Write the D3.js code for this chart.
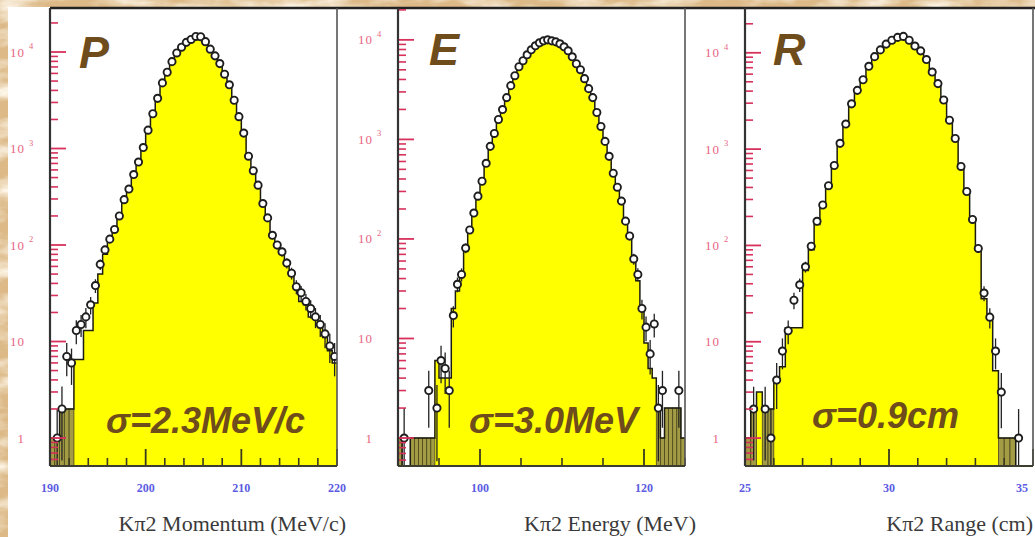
<!DOCTYPE html>
<html>
<head>
<meta charset="utf-8">
<script src="https://cdn.jsdelivr.net/npm/d3@7"></script>
<style>
  html, body { margin: 0; padding: 0; background: #dfbd8c; }
  svg { display: block; }
</style>
</head>
<body>
<svg id="chart" width="1035" height="537"></svg>
<script>
// ---------------- data ----------------
// Kπ2 momentum spectrum, 0.5 MeV/c bins starting at 190 MeV/c
const momentumBinStart = 190, momentumBinWidth = 0.5;
const momentumData = [
  0, 1, 2, 7, 6, 13, 15, 18, 24, 38,
  63, 89, 115, 145, 200, 295, 380, 537, 724, 1023,
  1549, 2291, 3311, 4786, 6166, 7943, 9772, 11220, 12589, 13500,
  14500, 14400, 12800, 10700, 9120, 7586, 5888, 4571, 3162, 2138,
  1445, 832, 589, 417, 269, 191, 126, 100, 85, 65,
  51, 37, 32, 26, 22, 18, 15, 12, 9, 7
];
const momentumMC = [
  1, 1, 2, 2, 2, 6.5, 6.5, 13, 13, 25,
  50, 80, 110, 140, 190, 280, 370, 520, 700, 1000,
  1500, 2250, 3250, 4700, 6100, 7900, 9700, 11200, 12500, 13400,
  14300, 14200, 12600, 10500, 9000, 7500, 5800, 4500, 3100, 2100,
  1400, 820, 580, 410, 265, 185, 125, 98, 80, 62,
  48, 35, 26, 24, 18, 17, 14, 11, 8, 6
];
const momentumTicks = [190, 200, 210, 220];

// Kπ2 energy spectrum, 0.5 MeV bins starting at 90 MeV
const energyBinStart = 90, energyBinWidth = 0.5;
const energyData = [
  0, 1, 0, 0, 0, 0, 0, 3, 0, 2,
  6, 5, 3, 17, 35, 44, 81, 123, 182, 269,
  380, 575, 851, 1148, 1585, 1995, 2630, 3467, 4365, 5370,
  6166, 7079, 7943, 8710, 9333, 9772, 10000, 9772, 9550, 9120,
  8511, 7762, 6761, 5754, 5012, 4074, 3236, 2630, 1862, 1349,
  955, 676, 457, 331, 240, 151, 107, 63, 44, 20,
  13, 7, 14, 2, 3, 0, 0, 0, 3, 0
];
const energyMC = [
  1, 0, 0, 1, 1, 1, 1, 1, 1, 6,
  4, 4, 4, 20, 30, 45, 75, 118, 178, 262,
  372, 560, 830, 1120, 1560, 1960, 2600, 3400, 4300, 5300,
  6100, 7000, 7900, 8600, 9200, 9600, 9800, 9700, 9400, 9000,
  8400, 7700, 6700, 5700, 4950, 4000, 3200, 2580, 1830, 1320,
  940, 660, 450, 325, 235, 148, 104, 62, 38, 20,
  9, 5, 4, 2, 1, 2, 2, 2, 2, 1
];
const energyTicks = [100, 120];

// Kπ2 range spectrum, 0.2 cm bins starting at 25 cm
const rangeBinStart = 25, rangeBinWidth = 0.2;
const rangeData = [
  0, 2, 0, 2, 1, 4, 8, 13, 27, 39,
  60, 98, 178, 263, 417, 676, 1148, 1820, 2951, 4074,
  5248, 7244, 9120, 10715, 12303, 13490, 14454, 14791, 13490, 11749,
  10471, 8511, 6310, 4786, 3236, 1995, 1288, 661, 363, 186,
  93, 32, 18, 8, 3, 0, 0, 1, 0, 0
];
const rangeMC = [
  1, 2, 3, 2, 2, 4, 5.5, 14, 14, 14,
  55, 90, 165, 250, 400, 650, 1100, 1750, 2850, 3950,
  5100, 7100, 8900, 10500, 12100, 13300, 14200, 14500, 13300, 11600,
  10300, 8400, 6200, 4700, 3150, 1950, 1250, 640, 350, 180,
  90, 28, 18, 5, 1, 1, 1, 0, 0, 0
];
const rangeTicks = [25, 30, 35];

// log-axis decade labels (exponents of ten)
const decadeExponents = [0, 1, 2, 3, 4];

// ---------------- layout ----------------
const svg = d3.select("#chart");
const defs = svg.append("defs");

// parchment texture for the backdrop
const parch = defs.append("filter").attr("id", "parchment")
  .attr("x", 0).attr("y", 0).attr("width", "100%").attr("height", "100%");
parch.append("feTurbulence").attr("type", "fractalNoise")
  .attr("baseFrequency", "0.02 0.05").attr("numOctaves", 4).attr("seed", 11).attr("result", "noise");
parch.append("feColorMatrix").attr("in", "noise").attr("type", "matrix")
  .attr("values", "0 0 0 0 1  0 0 0 0 0.95  0 0 0 0 0.85  2.2 0 0 0 -0.85");

svg.append("rect").attr("width", 1035).attr("height", 537).attr("fill", "#dcb987");
svg.append("rect").attr("width", 1035).attr("height", 537).attr("filter", "url(#parchment)");

// white sheet holding the three histograms
svg.append("rect").attr("x", 8).attr("y", 7).attr("width", 1027).attr("height", 530).attr("fill", "#ffffff");

const TOP = 8, BOTTOM = 466;
const brown = "#6e4c1b";

const panels = [
  {
    id: "p", data: momentumData, mc: momentumMC, start: momentumBinStart, width: momentumBinWidth,
    xDomain: [190, 220], xRange: [50, 337], logMin: -0.29, logMax: 4.456,
    majorTicks: momentumTicks, minorStep: 2,
    title: "Kπ2 Momentum (MeV/c)", titleEnd: 346, letter: "P", letterPos: [79, 68],
    sigma: "σ=2.3MeV/c", sigmaPos: [106, 433]
  },
  {
    id: "e", data: energyData, mc: energyMC, start: energyBinStart, width: energyBinWidth,
    xDomain: [90, 125], xRange: [398, 685], logMin: -0.281, logMax: 4.32,
    majorTicks: energyTicks, minorStep: 5,
    title: "Kπ2 Energy (MeV)", titleEnd: 696, letter: "E", letterPos: [429, 65],
    sigma: "σ=3.0MeV", sigmaPos: [469, 433]
  },
  {
    id: "r", data: rangeData, mc: rangeMC, start: rangeBinStart, width: rangeBinWidth,
    xDomain: [25, 35], xRange: [745, 1033], logMin: -0.29, logMax: 4.465,
    majorTicks: rangeTicks, minorStep: 1,
    title: "Kπ2 Range (cm)", titleEnd: 1033, letter: "R", letterPos: [773, 65],
    sigma: "σ=0.9cm", sigmaPos: [812, 428]
  }
];

// top border of the frames runs across the whole sheet
svg.append("line").attr("x1", 50).attr("x2", 1035).attr("y1", TOP).attr("y2", TOP)
  .attr("stroke", "#222").attr("stroke-width", 2.5);

panels.forEach(p => {
  const x = d3.scaleLinear().domain(p.xDomain).range(p.xRange);
  const yMin = Math.pow(10, p.logMin), yMax = Math.pow(10, p.logMax);
  const y = d3.scaleLog().domain([yMin, yMax]).range([BOTTOM, TOP]).clamp(true);
  const [x0, x1] = p.xRange;

  defs.append("clipPath").attr("id", "clip-" + p.id)
    .append("rect").attr("x", x0).attr("y", TOP).attr("width", x1 - x0).attr("height", BOTTOM - TOP);

  const g = svg.append("g");
  const plot = g.append("g").attr("clip-path", `url(#clip-${p.id})`);

  const yv = v => (v > 0 ? y(v) : BOTTOM);

  // simulated spectrum: filled step histogram
  const mcBins = p.mc.map((v, i) => ({ lo: p.start + i * p.width, hi: p.start + (i + 1) * p.width, v }));
  const stepPts = mcBins.map(b => [x(b.lo), yv(b.v)]);
  stepPts.push([x(mcBins[mcBins.length - 1].hi), yv(mcBins[mcBins.length - 1].v)]);

  const area = d3.area().x(d => d[0]).y0(BOTTOM).y1(d => d[1]).curve(d3.curveStepAfter);
  plot.append("path").attr("d", area(stepPts)).attr("fill", "#ffff00");

  // sparse tail bins show up darker
  plot.selectAll("rect.tail").data(mcBins.filter(b => b.v > 0 && b.v < 3)).join("rect")
    .attr("class", "tail")
    .attr("x", b => x(b.lo)).attr("width", b => x(b.hi) - x(b.lo))
    .attr("y", b => y(b.v)).attr("height", b => BOTTOM - y(b.v))
    .attr("fill", "#a39c45").attr("stroke", "#4a4620").attr("stroke-width", 0.8);

  const line = d3.line().x(d => d[0]).y(d => d[1]).curve(d3.curveStepAfter);
  plot.append("path").attr("d", line(stepPts)).attr("fill", "none")
    .attr("stroke", "#1c1c10").attr("stroke-width", 1.5);

  // measured spectrum: points with statistical error bars
  const pts = p.data.map((v, i) => ({ c: p.start + (i + 0.5) * p.width, v })).filter(d => d.v > 0);
  plot.selectAll("line.err").data(pts).join("line")
    .attr("class", "err")
    .attr("x1", d => x(d.c)).attr("x2", d => x(d.c))
    .attr("y1", d => y(d.v + Math.sqrt(d.v)))
    .attr("y2", d => y(Math.max(d.v - Math.sqrt(d.v), yMin)))
    .attr("stroke", "#222").attr("stroke-width", 1.3);
  plot.selectAll("circle.pt").data(pts).join("circle")
    .attr("class", "pt")
    .attr("cx", d => x(d.c)).attr("cy", d => y(d.v)).attr("r", 3.6)
    .attr("fill", "#ffffff").attr("stroke", "#1e1e1e").attr("stroke-width", 1.9);

  // log y ticks (inside, crimson)
  const minor = [];
  for (let e = Math.floor(p.logMin); e <= Math.ceil(p.logMax); e++) {
    for (let k = 2; k <= 9; k++) {
      const v = k * Math.pow(10, e);
      if (v > yMin && v < yMax) minor.push(v);
    }
  }
  g.selectAll("line.ymin").data(minor).join("line")
    .attr("x1", x0).attr("x2", x0 + 8)
    .attr("y1", d => y(d)).attr("y2", d => y(d))
    .attr("stroke", "#d8315c").attr("stroke-width", 1.6);
  g.selectAll("line.ymaj").data(decadeExponents).join("line")
    .attr("x1", x0).attr("x2", x0 + 16)
    .attr("y1", e => y(Math.pow(10, e))).attr("y2", e => y(Math.pow(10, e)))
    .attr("stroke", "#d8315c").attr("stroke-width", 1.8);

  // decade labels: 1, 10, 10², 10³, 10⁴
  const lab = g.append("g").attr("fill", "#e8647f")
    .attr("font-family", "'Liberation Serif', 'DejaVu Serif', serif");
  lab.selectAll("text.base").data(decadeExponents).join("text")
    .attr("x", x0 - 25).attr("y", e => y(Math.pow(10, e)) + 4.5)
    .attr("text-anchor", "end").attr("font-size", 13).attr("letter-spacing", 1)
    .text(e => (e === 0 ? "1" : "10"));
  lab.selectAll("text.exp").data(decadeExponents.filter(e => e >= 2)).join("text")
    .attr("x", x0 - 21).attr("y", e => y(Math.pow(10, e)) - 3)
    .attr("font-size", 8.5)
    .text(e => String(e));

  // x ticks (inside, pointing up)
  const minorX = d3.range(p.xDomain[0], p.xDomain[1] + 1e-9, p.minorStep)
    .filter(v => !p.majorTicks.includes(v));
  g.selectAll("line.xmin").data(minorX).join("line")
    .attr("x1", d => x(d)).attr("x2", d => x(d))
    .attr("y1", BOTTOM).attr("y2", BOTTOM - 8)
    .attr("stroke", "#3a3a20").attr("stroke-width", 1.6);
  g.selectAll("line.xmaj").data(p.majorTicks).join("line")
    .attr("x1", d => x(d)).attr("x2", d => x(d))
    .attr("y1", BOTTOM).attr("y2", BOTTOM - 17)
    .attr("stroke", "#3a3a20").attr("stroke-width", 1.8);
  g.selectAll("text.xlab").data(p.majorTicks).join("text")
    .attr("x", d => Math.min(x(d), 1022)).attr("y", 492)
    .attr("text-anchor", "middle")
    .attr("font-family", "'Liberation Serif', 'DejaVu Serif', serif")
    .attr("font-size", 12).attr("font-weight", "bold").attr("fill", "#5b5be3")
    .text(d => d);

  // frame
  g.append("line").attr("x1", x1).attr("x2", x1).attr("y1", TOP).attr("y2", BOTTOM)
    .attr("stroke", "#555").attr("stroke-width", 1.6);
  g.append("line").attr("x1", x0).attr("x2", x1).attr("y1", BOTTOM).attr("y2", BOTTOM)
    .attr("stroke", "#3d3d30").attr("stroke-width", 2.2);
  g.append("line").attr("x1", x0).attr("x2", x0).attr("y1", TOP).attr("y2", BOTTOM)
    .attr("stroke", "#333").attr("stroke-width", 2.2);

  // axis title, flush with the right end of the axis
  g.append("text").attr("x", p.titleEnd).attr("y", 531)
    .attr("text-anchor", "end")
    .attr("font-family", "'Liberation Serif', 'DejaVu Serif', serif")
    .attr("font-size", 22).attr("fill", "#3a3a3a")
    .text(p.title);

  // quantity letter and resolution
  g.append("text").attr("x", p.letterPos[0]).attr("y", p.letterPos[1])
    .attr("font-family", "'Liberation Sans', Arial, sans-serif")
    .attr("font-size", 45).attr("font-weight", "bold").attr("font-style", "italic")
    .attr("fill", brown).text(p.letter);
  g.append("text").attr("x", p.sigmaPos[0]).attr("y", p.sigmaPos[1])
    .attr("font-family", "'Liberation Sans', Arial, sans-serif")
    .attr("font-size", 36).attr("font-weight", "bold").attr("font-style", "italic")
    .attr("fill", brown).text(p.sigma);
});
</script>
</body>
</html>
